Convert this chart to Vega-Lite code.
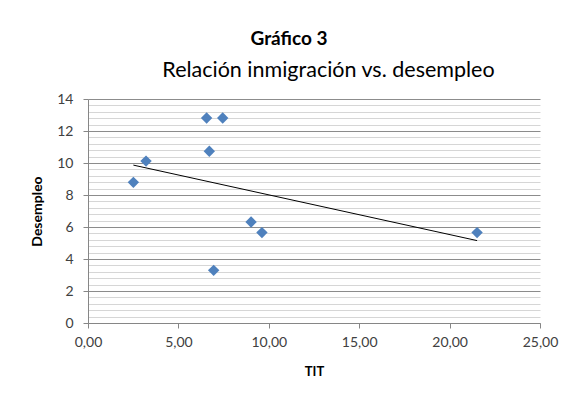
{
  "$schema": "https://vega.github.io/schema/vega-lite/v6.json",
  "width": 452,
  "height": 224,
  "autosize": "none",
  "padding": {"left": 88, "top": 99, "right": 28, "bottom": 84},
  "background": "white",
  "config": {
    "view": {"stroke": null},
    "font": "Lato",
    "axis": {"labelFont": "Lato", "titleFont": "Lato"}
  },
  "title": {
    "text": "Gráfico 3",
    "fontSize": 19,
    "fontWeight": "bold",
    "color": "#000000",
    "anchor": "middle",
    "dx": -25,
    "offset": 10
  },
  "data": {
    "values": [
      {"tit": 2.51, "desempleo": 8.79},
      {"tit": 3.21, "desempleo": 10.12},
      {"tit": 6.56, "desempleo": 12.81},
      {"tit": 7.45, "desempleo": 12.81},
      {"tit": 6.71, "desempleo": 10.73},
      {"tit": 6.95, "desempleo": 3.29},
      {"tit": 9.02, "desempleo": 6.31},
      {"tit": 9.62, "desempleo": 5.65},
      {"tit": 21.52, "desempleo": 5.65}
    ]
  },
  "layer": [
    {
      "mark": {"type": "point", "shape": "diamond", "filled": true, "size": 130, "color": "#4f81bd", "opacity": 1},
      "encoding": {
        "x": {
          "field": "tit", "type": "quantitative",
          "scale": {"domain": [0, 25], "nice": false, "zero": false},
          "axis": {
            "title": "TIT",
            "titleFontSize": 13, "titleFontWeight": "bold", "titleColor": "#000000", "titlePadding": 16,
            "values": [0, 5, 10, 15, 20, 25],
            "labelExpr": "replace(format(datum.value, '.2f'), '.', ',')",
            "labelFontSize": 14, "labelColor": "#404040", "labelPadding": 7,
            "grid": false,
            "domainColor": "#868686", "tickColor": "#868686", "tickSize": 5,
            "labelFlush": false
          }
        },
        "y": {
          "field": "desempleo", "type": "quantitative",
          "scale": {"domain": [0, 14], "nice": false, "zero": true},
          "axis": {
            "title": "Desempleo",
            "titleFontSize": 14, "titleFontWeight": "bold", "titleColor": "#000000", "titlePadding": 12,
            "values": [0, 0.4, 0.8, 1.2, 1.6, 2, 2.4, 2.8, 3.2, 3.6, 4, 4.4, 4.8, 5.2, 5.6, 6, 6.4, 6.8, 7.2, 7.6, 8, 8.4, 8.8, 9.2, 9.6, 10, 10.4, 10.8, 11.2, 11.6, 12, 12.4, 12.8, 13.2, 13.6, 14],
            "labelExpr": "datum.value % 2 === 0 ? datum.value : ''",
            "labelFontSize": 14, "labelColor": "#404040", "labelPadding": 10,
            "grid": true,
            "gridColor": {"condition": {"test": "datum.value % 2 === 0", "value": "#8c8c8c"}, "value": "#d6d6d6"},
            "gridWidth": 1,
            "domainColor": "#868686",
            "tickColor": "#868686",
            "tickOpacity": {"condition": {"test": "datum.value % 2 === 0", "value": 1}, "value": 0},
            "tickSize": 5
          }
        }
      }
    },
    {
      "transform": [{"regression": "desempleo", "on": "tit"}],
      "mark": {"type": "line", "color": "#000000", "strokeWidth": 1},
      "encoding": {
        "x": {
          "field": "tit", "type": "quantitative",
          "axis": {
            "orient": "top",
            "title": "Relación inmigración vs. desempleo",
            "titleFontSize": 21.5, "titleFontWeight": "normal", "titleColor": "#000000",
            "titleX": 240, "titleY": -23, "titleBaseline": "alphabetic", "titleAlign": "center",
            "labels": false, "ticks": false, "domain": false, "grid": false
          }
        },
        "y": {"field": "desempleo", "type": "quantitative", "axis": null}
      }
    }
  ],
  "resolve": {"axis": {"x": "independent", "y": "independent"}}
}
